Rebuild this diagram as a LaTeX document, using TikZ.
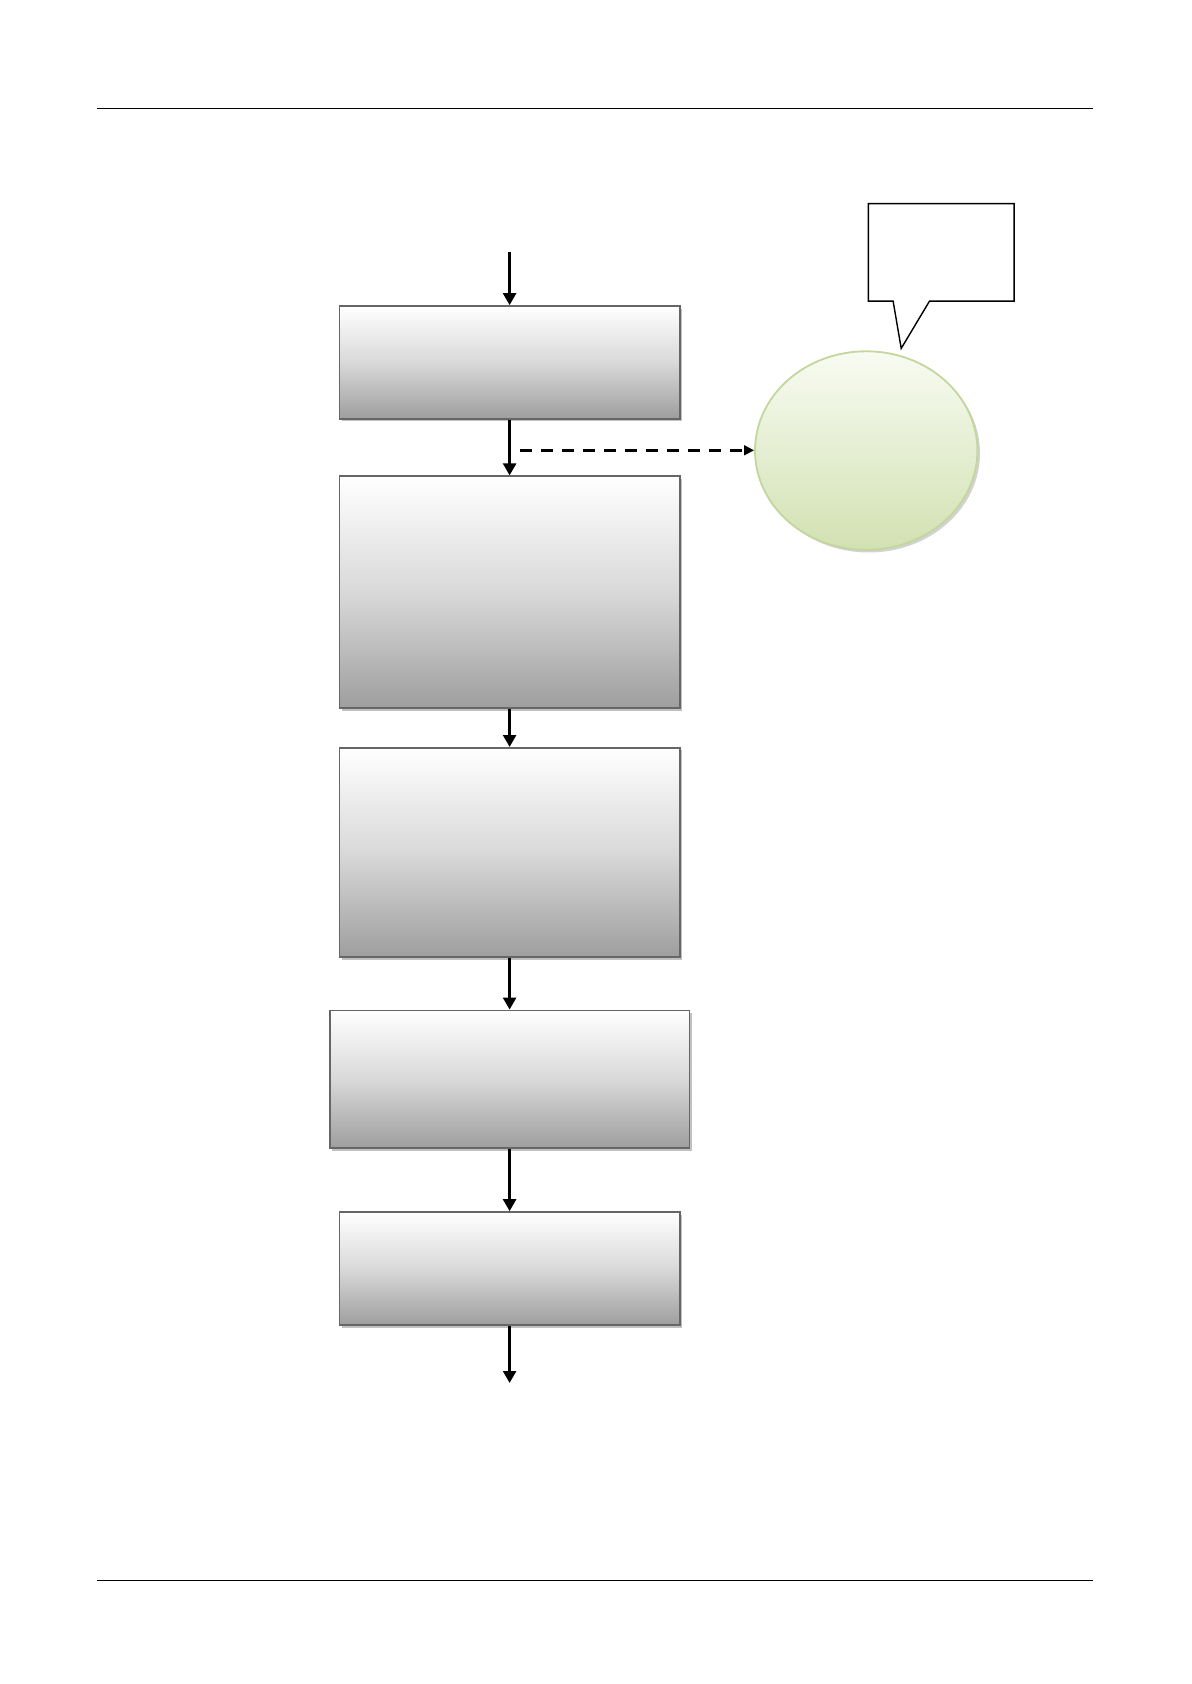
\documentclass[tikz,border=0pt]{standalone}
\usepackage{xcolor}
\usepackage{tikz}
\usetikzlibrary{positioning,calc,arrows.meta,shapes.geometric,shadows}

\definecolor{bubbleline}{HTML}{C3D69B}
\definecolor{bubbletop}{HTML}{F8FBF2}
\definecolor{bubblebottom}{HTML}{D2E1B2}

\begin{document}
\begin{tikzpicture}[
  node distance=27.9pt,
  box/.style={draw=black!60, line width=0.8pt, minimum width=170.2pt, inner sep=0pt,
    top color=white, bottom color=black!38, middle color=black!15,
    drop shadow={shadow xshift=1.3pt, shadow yshift=-1.3pt, fill=black!30, opacity=0.8}},
  arr/.style={-{Triangle[length=6pt, width=6.4pt]}, line width=1.8pt},
  dasharr/.style={-{Triangle[length=5pt, width=4.8pt]}, line width=1.3pt, dash pattern=on 6pt off 4.5pt}
]
\useasboundingbox (0,0) rectangle (595.5pt,-842pt);

% page rules
\draw[line width=0.6pt] (48.3pt,-54.2pt) -- (546.6pt,-54.2pt);
\draw[line width=0.6pt] (48.3pt,-790.4pt) -- (546.6pt,-790.4pt);

% main chain
\node[box, minimum height=56.4pt] (stage1) at (254.8pt,-181.2pt) {};
\node[box, minimum height=116pt, below=27.9pt of stage1] (stage2) {};
\node[box, minimum height=104.7pt, below=19pt of stage2] (stage3) {};
\node[box, minimum height=68.8pt, minimum width=179.9pt, below=25.8pt of stage3] (stage4) {};
\node[box, minimum height=56.6pt, below=31.2pt of stage4] (stage5) {};
\coordinate[above=26.8pt of stage1] (entry);
\coordinate[below=28.5pt of stage5] (exit);

% side branch
\node[ellipse, draw=bubbleline, line width=0.9pt, minimum width=111.2pt, minimum height=99.3pt,
  inner sep=0pt, top color=bubbletop, bottom color=bubblebottom,
  drop shadow={shadow xshift=1.3pt, shadow yshift=-1.3pt, fill=black!25, opacity=0.7}]
  (bubble) at (433.1pt,-225.3pt) {};
\coordinate (tip) at ([xshift=17.5pt, yshift=1pt]bubble.north);
\node[minimum width=72.5pt, minimum height=48.3pt, inner sep=0pt] (note) at (470.6pt,-126.2pt) {};
\draw[line width=0.7pt, fill=white] (note.north west) -- (note.north east) -- (note.south east)
  -- ([xshift=30.6pt]note.south west) -- (tip) -- ([xshift=12.4pt]note.south west)
  -- (note.south west) -- cycle;

\coordinate (split) at ($(stage1.south)!0.55!(stage2.north)$);

\draw[arr] (entry) -- (stage1);
\draw[arr] (stage1) -- (stage2);
\draw[dasharr] ([xshift=5.1pt]split) -- (split -| bubble.west);
\draw[arr] (stage2) -- (stage3);
\draw[arr] (stage3) -- (stage4);
\draw[arr] (stage4) -- (stage5);
\draw[arr] (stage5) -- (exit);
\end{tikzpicture}
\end{document}
